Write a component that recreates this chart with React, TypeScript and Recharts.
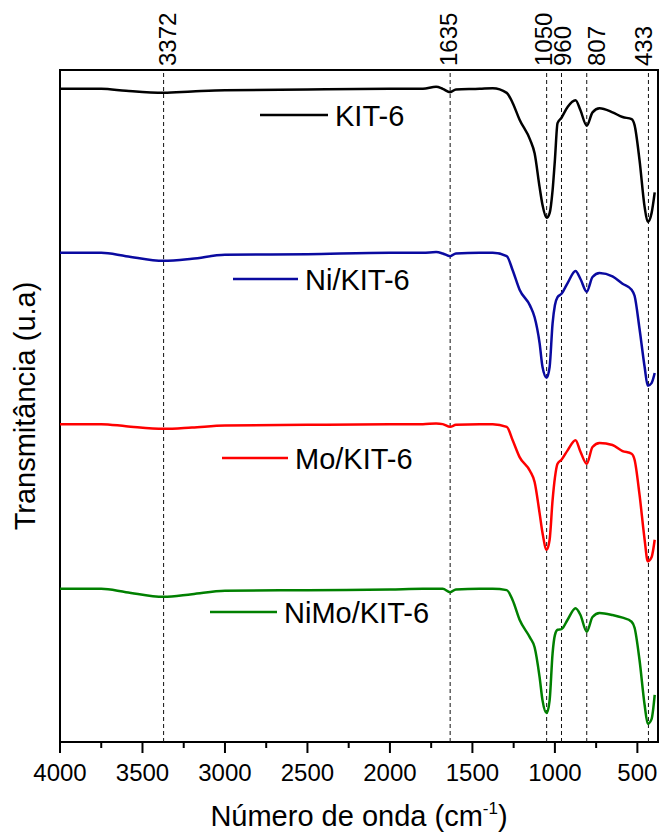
import { Line, LineChart, ReferenceArea, ReferenceLine, XAxis, YAxis } from 'recharts';

// FTIR spectra, wavenumber in cm-1 (x axis runs high -> low)
const wavenumbers = [
  4000, 3750, 3600, 3372, 3200, 3000, 2500, 2000, 1800, 1720, 1680, 1635, 1600, 1456, 1377, 1292,
  1256, 1214, 1150, 1123, 1093, 1075, 1050, 1032, 1014, 1000, 984, 960, 923, 875, 845, 807, 772,
  729, 651, 590, 535, 517, 487, 456, 437, 414, 395,
];

// transmittance (u.a.), each spectrum already stacked with its vertical offset
const kit6 = [
  97.2, 97.2, 96.9, 96.6, 96.8, 97.0, 97.1, 97.2, 97.2, 97.5, 97.2, 96.7, 97.1, 97.2, 97.3, 96.6,
  95.1, 92.6, 89.6, 87.6, 82.6, 79.9, 78.0, 78.7, 82.1, 86.6, 92.1, 92.9, 94.5, 95.5, 94.0, 91.7, 93.7,
  94.3, 93.7, 93.0, 92.7, 91.8, 86.6, 79.6, 77.4, 78.7, 81.8,
];
const niKit6 = [
  72.8, 72.8, 72.3, 71.6, 71.9, 72.5, 72.6, 72.8, 72.8, 72.9, 72.7, 72.3, 72.7, 72.8, 72.8, 72.3,
  70.2, 67.3, 64.9, 63.2, 59.4, 55.8, 54.2, 55.8, 62.3, 65.0, 66.2, 66.7, 68.3, 70.1, 68.9, 67.0, 69.2,
  69.8, 69.3, 68.2, 67.3, 66.4, 61.5, 55.8, 53.0, 53.4, 54.9,
];
const moKit6 = [
  47.3, 47.3, 47.0, 46.6, 46.8, 47.1, 47.2, 47.3, 47.3, 47.4, 47.3, 46.9, 47.2, 47.3, 47.3, 46.9,
  44.9, 42.4, 40.3, 38.7, 34.1, 31.1, 28.6, 30.1, 36.0, 39.3, 41.4, 42.0, 43.4, 44.9, 43.2, 41.4, 43.9,
  44.5, 44.2, 43.3, 42.9, 42.0, 36.8, 30.1, 26.9, 27.5, 30.1,
];
const niMoKit6 = [
  22.8, 22.8, 22.3, 21.6, 22.0, 22.5, 22.6, 22.7, 22.8, 22.8, 22.8, 22.3, 22.7, 22.8, 22.8, 22.6,
  21.1, 18.2, 15.5, 14.1, 9.7, 6.2, 4.3, 6.2, 13.2, 15.9, 16.7, 16.8, 18.2, 19.9, 18.9, 16.4, 18.6,
  19.2, 18.9, 18.5, 17.9, 17.0, 12.2, 5.5, 2.7, 3.4, 7.0,
];

const seriesNames = ['KIT-6', 'Ni/KIT-6', 'Mo/KIT-6', 'NiMo/KIT-6'];
const seriesKeys = ['kit6', 'niKit6', 'moKit6', 'niMoKit6'];
const seriesColors = ['#000000', '#0a0aa0', '#ff0000', '#008000'];

// marked band positions
const peaks = [3372, 1635, 1050, 960, 807, 433];
const peakLabelShift = [12, 7, 5, 10, 18, 4];

const xTicks = [
  4000, 3750, 3500, 3250, 3000, 2750, 2500, 2250, 2000, 1750, 1500, 1250, 1000, 750, 500,
];

const data = wavenumbers.map((wn, i) => ({
  wn,
  kit6: kit6[i],
  niKit6: niKit6[i],
  moKit6: moKit6[i],
  niMoKit6: niMoKit6[i],
}));

const FONT = '"Liberation Sans", Arial, Helvetica, sans-serif';

// inline legend placement (line start/end and vertical position)
const legendSpots = [
  { x1: 260, x2: 328, y: 115 },
  { x1: 233, x2: 298, y: 279 },
  { x1: 222, x2: 288, y: 458 },
  { x1: 210, x2: 277, y: 612 },
];

function WaveTick(props: any) {
  const { x, y, payload } = props;
  const major = payload.value % 500 === 0;
  return (
    <g>
      <line x1={x} x2={x} y1={y} y2={y + (major ? 11 : 6)} stroke="#000" strokeWidth={2} />
      {major && (
        <text x={x} y={y + 39} textAnchor="middle" fontSize={24} fontFamily={FONT} fill="#000">
          {payload.value}
        </text>
      )}
    </g>
  );
}

function PeakLabel(props: any) {
  const { viewBox, text, shift } = props;
  if (!viewBox) return null;
  const x = viewBox.x + shift;
  const y = viewBox.y - 4;
  return (
    <text x={x} y={y} transform={`rotate(-90 ${x} ${y})`} fontSize={24} fontFamily={FONT} fill="#000">
      {text}
    </text>
  );
}

export default function App() {
  return (
    <div style={{ position: 'absolute', left: 0, top: 0, width: 661, height: 834, background: '#fff' }}>
      <LineChart width={661} height={834} data={data} margin={{ top: 70, right: 3, bottom: 0, left: 60 }}>
        <XAxis
          type="number"
          dataKey="wn"
          domain={[375, 4000]}
          reversed
          allowDataOverflow
          ticks={xTicks}
          interval={0}
          tick={<WaveTick />}
          tickSize={0}
          tickMargin={0}
          tickLine={false}
          axisLine={false}
          height={92}
        />
        <YAxis type="number" domain={[0, 100]} hide />
        {peaks.map((p, i) => (
          <ReferenceLine
            key={p}
            x={p}
            stroke="#111"
            strokeWidth={1}
            strokeDasharray="4 3"
            label={(lp: any) => <PeakLabel {...lp} text={String(p)} shift={peakLabelShift[i]} />}
          />
        ))}
        {seriesKeys.map((k, i) => (
          <Line
            key={k}
            type="monotone"
            dataKey={k}
            name={seriesNames[i]}
            stroke={seriesColors[i]}
            strokeWidth={2.5}
            dot={false}
            isAnimationActive={false}
          />
        ))}
        <ReferenceArea x1={4000} x2={375} y1={0} y2={100} fill="none" stroke="#000" strokeWidth={2} />
      </LineChart>
      <svg
        width={661}
        height={834}
        style={{ position: 'absolute', left: 0, top: 0, pointerEvents: 'none' }}
        fontFamily={FONT}
      >
        {legendSpots.map((s, i) => (
          <g key={seriesKeys[i]}>
            <line x1={s.x1} x2={s.x2} y1={s.y} y2={s.y} stroke={seriesColors[i]} strokeWidth={2.5} />
            <text x={s.x2 + 7} y={s.y + 10.5} fontSize={29} fill="#000">
              {seriesNames[i]}
            </text>
          </g>
        ))}
        <text x={35} y={406} transform="rotate(-90 35 406)" textAnchor="middle" fontSize={29} fill="#000">
          Transmitância (u.a)
        </text>
        <text x={359} y={826} textAnchor="middle" fontSize={29} fill="#000">
          <tspan>Número de onda (cm</tspan>
          <tspan dy={-12} fontSize={17}>
            -1
          </tspan>
          <tspan dy={12}>)</tspan>
        </text>
      </svg>
    </div>
  );
}
